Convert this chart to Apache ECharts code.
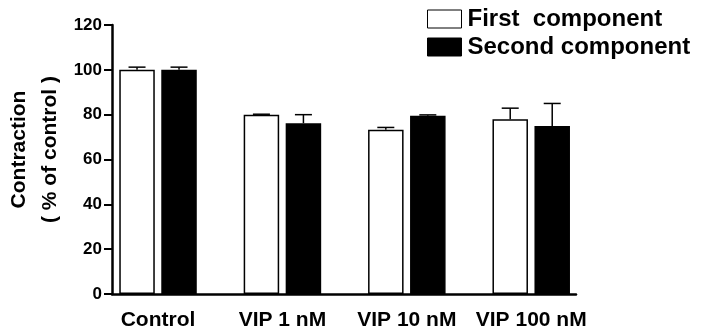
<!DOCTYPE html>
<html>
<head>
<meta charset="utf-8">
<script src="https://cdn.jsdelivr.net/npm/echarts@6/dist/echarts.min.js"></script>
<style>
html,body{margin:0;padding:0;background:#fff;}
#chart{width:701px;height:328px;}
</style>
</head>
<body>
<div id="chart"></div>
<script>
var categories = ['Control', 'VIP 1 nM', 'VIP 10 nM', 'VIP 100 nM'];
var seriesNames = ['First  component', 'Second component'];
var firstValues = [100, 80, 73.3, 78.0];
var firstErrors = [1.2, 0.2, 1.0, 4.9];
var secondValues = [100, 76.2, 79.5, 75.0];
var secondErrors = [1.2, 3.8, 0.4, 10.0];
var yTicks = [0, 20, 40, 60, 80, 100, 120];

var FONT = '"Liberation Sans", Arial, sans-serif';
var BAR_W = 35.5, BAR_GAP = 6.5, CAP_W = 17;

function pairs(vals) { return vals.map(function (v, i) { return [i, v]; }); }
function errData(vals, errs) { return vals.map(function (v, i) { return [i, v, errs[i]]; }); }

function errRender(offset) {
  return function (params, api) {
    var x = api.value(0), v = api.value(1), e = api.value(2);
    var base = api.coord([x, v]);
    var top = api.coord([x, v + e]);
    var cx = base[0] + offset;
    return {
      type: 'group',
      children: [
        { type: 'line', shape: { x1: cx, y1: base[1], x2: cx, y2: top[1] }, style: { stroke: '#000', lineWidth: 1.5 } },
        { type: 'line', shape: { x1: cx - CAP_W / 2, y1: top[1], x2: cx + CAP_W / 2, y2: top[1] }, style: { stroke: '#000', lineWidth: 1.5 } }
      ]
    };
  };
}

var off = (BAR_W + BAR_GAP) / 2;

var chart = echarts.init(document.getElementById('chart'));
chart.setOption({
  animation: false,
  backgroundColor: '#fff',
  grid: { left: 112, right: 125, top: 25, bottom: 34, containLabel: false, outerBoundsMode: 'none' },
  legend: {
    orient: 'vertical',
    left: 422,
    top: 2,
    itemWidth: 34,
    itemHeight: 18,
    itemGap: 4,
    icon: 'rect',
    data: [
      { name: seriesNames[0], itemStyle: { color: '#fff', borderColor: '#000', borderWidth: 1 } },
      { name: seriesNames[1], itemStyle: { color: '#000', borderColor: '#000', borderWidth: 1 } }
    ],
    textStyle: { fontFamily: FONT, fontWeight: 'bold', fontSize: 24, color: '#000', padding: [0, 0, 0, 1] }
  },
  xAxis: {
    type: 'value',
    min: -0.37,
    max: 3.36,
    splitLine: { show: false },
    axisLine: { show: true, onZero: false, lineStyle: { color: '#000', width: 2.5 } },
    axisTick: { show: false },
    axisLabel: {
      customValues: [0, 1, 2, 3],
      formatter: function (v) { return categories[Math.round(v)]; },
      fontFamily: FONT, fontWeight: 'bold', fontSize: 21, color: '#000', margin: 16
    }
  },
  yAxis: {
    type: 'value',
    min: 0, max: 120, interval: 20,
    splitLine: { show: false },
    axisLine: { show: true, onZero: false, lineStyle: { color: '#000', width: 2.5 } },
    axisTick: { show: true, length: 8, lineStyle: { color: '#000', width: 2 } },
    axisLabel: {
      formatter: function (v) { return yTicks.indexOf(v) >= 0 ? String(v) : ''; },
      fontFamily: FONT, fontWeight: 'bold', fontSize: 17, color: '#000', margin: 10
    },
    name: 'Contraction\n( % of control )',
    nameLocation: 'middle',
    nameRotate: 90,
    nameGap: 46,
    nameMoveOverlap: false,
    nameTextStyle: { fontFamily: FONT, fontWeight: 'bold', fontSize: 21, color: '#000', lineHeight: 31, padding: [0, 0, 0, 20] }
  },
  series: [
    {
      name: seriesNames[0], type: 'bar', data: pairs(firstValues),
      barWidth: BAR_W, barGap: (BAR_GAP / BAR_W * 100) + '%',
      itemStyle: { color: '#fff', borderColor: '#000', borderWidth: 1.5 }, z: 2
    },
    {
      name: seriesNames[1], type: 'bar', data: pairs(secondValues),
      barWidth: BAR_W, barGap: (BAR_GAP / BAR_W * 100) + '%',
      itemStyle: { color: '#000', borderColor: '#000', borderWidth: 1.5 }, z: 2
    },
    { type: 'custom', data: errData(firstValues, firstErrors), renderItem: errRender(-off), z: 3, silent: true },
    { type: 'custom', data: errData(secondValues, secondErrors), renderItem: errRender(off), z: 3, silent: true }
  ]
});
</script>
</body>
</html>
